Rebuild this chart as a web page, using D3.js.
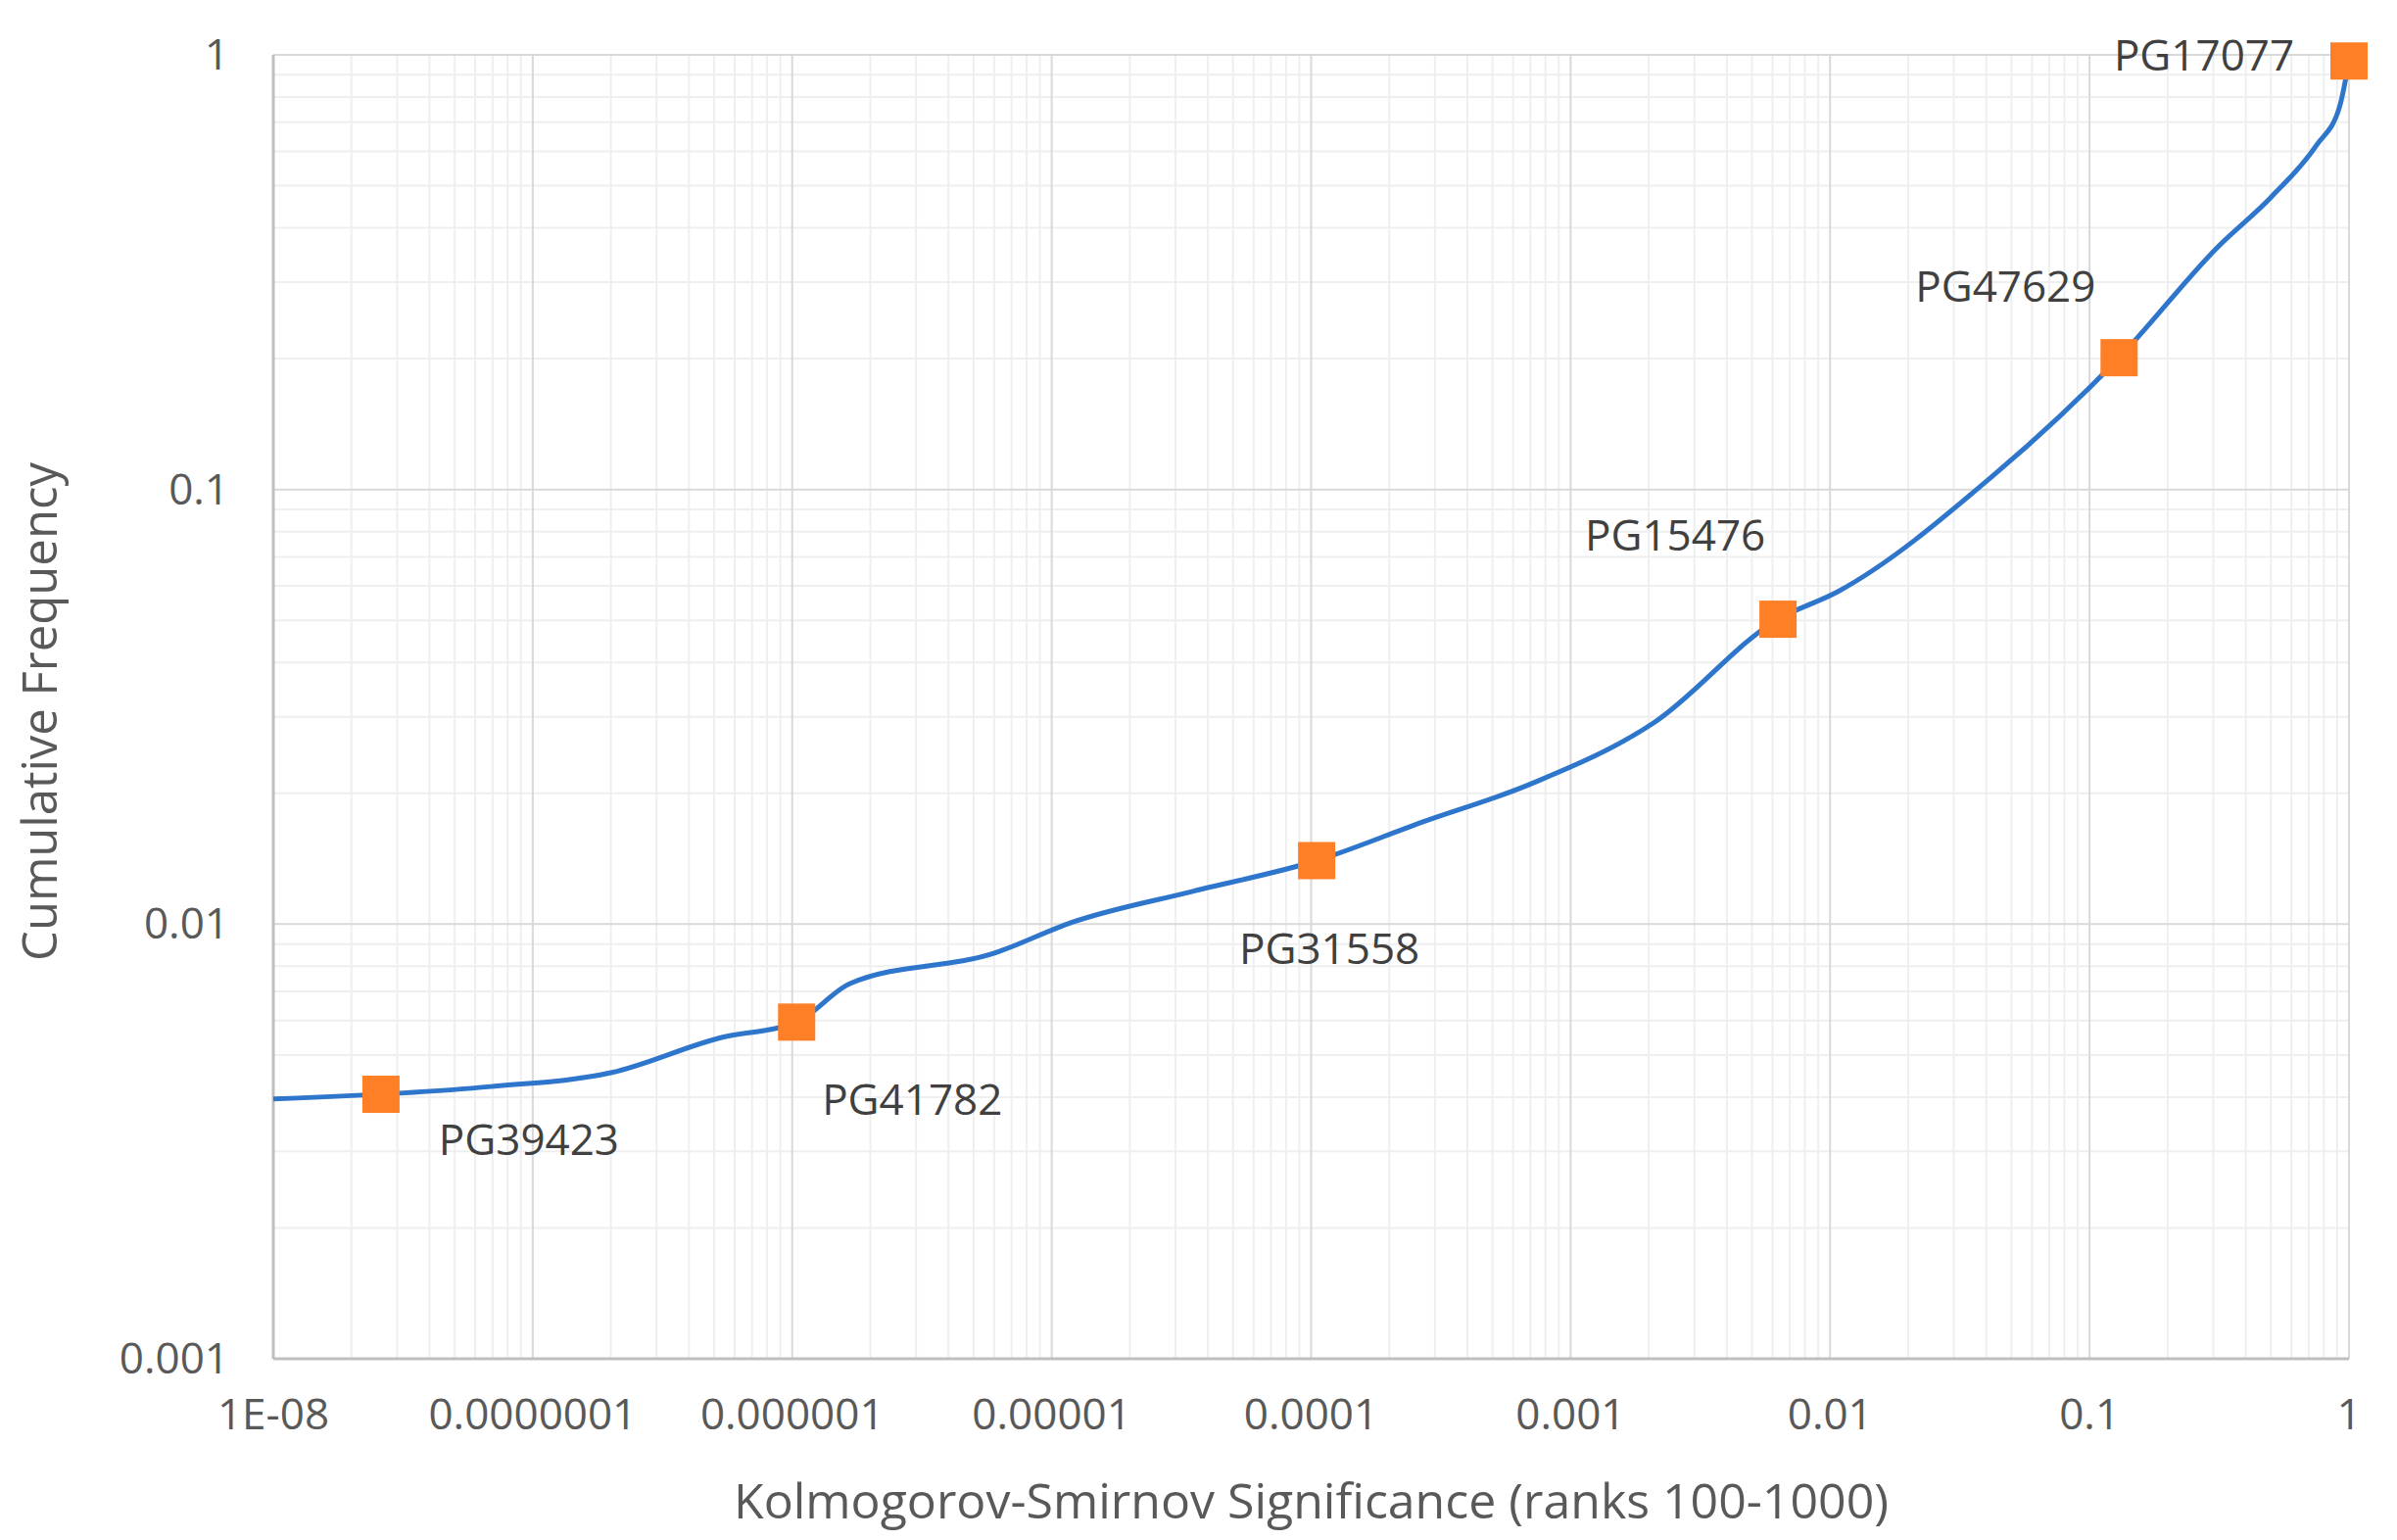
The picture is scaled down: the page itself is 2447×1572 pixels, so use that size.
<!DOCTYPE html><html><head><meta charset="utf-8"><script src="https://cdn.jsdelivr.net/npm/d3@7"></script>
<style>body{margin:0;background:#fff}text{font-family:"Open Sans","Noto Sans",sans-serif;fill:#595959}</style></head><body><svg id="c" width="2447" height="1572"></svg><script>
const curveX=[1e-8,6.9e-8,2.0e-7,5.3e-7,1.04e-6,1.67e-6,6.1e-6,1.2e-5,3.5e-5,1.05e-4,2.7e-4,7e-4,2.1e-3,6.3e-3,1.07e-2,4.2e-2,0.13,0.316,0.5,0.75,0.92,1];
const curveY=[0.00396,0.00423,0.00455,0.00548,0.00595,0.0073,0.0086,0.0101,0.0119,0.0140,0.0172,0.0210,0.0291,0.0503,0.0582,0.107,0.201,0.364,0.47,0.62,0.76,0.97];
const labels=["PG39423","PG41782","PG31558","PG15476","PG47629","PG17077"];
const markX=[2.6e-8,1.04e-6,1.05e-4,6.3e-3,0.13,1];
const markY=[0.00406,0.00595,0.0140,0.0503,0.201,0.968];
const labDX=[151,118,13,-105,-116,-148], labDY=[47,80,90,-85,-72,-5];
const xTicks=["1E-08","0.0000001","0.000001","0.00001","0.0001","0.001","0.01","0.1","1"];
const yTicks=["0.001","0.01","0.1","1"];
const svg=d3.select("#c");
const L=279,R=2398,T=56,B=1387;
const x=d3.scaleLog().domain([1e-8,1]).range([L,R]);
const y=d3.scaleLog().domain([0.001,1]).range([B,T]);
const g=svg.append("g");
for(let e=-8;e<0;e++)for(let k=2;k<10;k++){const v=k*10**e;g.append("line").attr("x1",x(v)).attr("x2",x(v)).attr("y1",T).attr("y2",B).attr("stroke","#efefef").attr("stroke-width",2);}
for(let e=-3;e<0;e++)for(let k=2;k<10;k++){const v=k*10**e;g.append("line").attr("y1",y(v)).attr("y2",y(v)).attr("x1",L).attr("x2",R).attr("stroke","#efefef").attr("stroke-width",2);}
xTicks.forEach((t,i)=>{const v=10**(i-8);g.append("line").attr("x1",x(v)).attr("x2",x(v)).attr("y1",T).attr("y2",B).attr("stroke","#d9d9d9").attr("stroke-width",2);
svg.append("text").attr("x",x(v)).attr("y",B+72).attr("text-anchor","middle").attr("font-size",44).text(t);});
yTicks.forEach((t,i)=>{const v=10**(i-3);g.append("line").attr("y1",y(v)).attr("y2",y(v)).attr("x1",L).attr("x2",R).attr("stroke","#d9d9d9").attr("stroke-width",2);
svg.append("text").attr("x",L-45).attr("y",y(v)+15).attr("text-anchor","end").attr("font-size",44).text(t);});
svg.append("line").attr("x1",L).attr("x2",L).attr("y1",T).attr("y2",B).attr("stroke","#bfbfbf").attr("stroke-width",3);
svg.append("line").attr("x1",L).attr("x2",R).attr("y1",B).attr("y2",B).attr("stroke","#bfbfbf").attr("stroke-width",3);
svg.append("path").datum(curveX.map((d,i)=>[d,curveY[i]])).attr("d",d3.line().x(d=>x(d[0])).y(d=>y(d[1])).curve(d3.curveMonotoneX)).attr("fill","none").attr("stroke","#2e75cc").attr("stroke-width",5);
markX.forEach((v,i)=>{svg.append("rect").attr("x",x(v)-19).attr("y",y(markY[i])-19).attr("width",38).attr("height",38).attr("fill","#ff7f27");
svg.append("text").attr("x",x(v)+labDX[i]).attr("y",y(markY[i])+labDY[i]+15).attr("text-anchor","middle").attr("font-size",44).style("fill","#404040").text(labels[i]);});
svg.append("text").attr("x",(L+R)/2).attr("y",1550).attr("text-anchor","middle").attr("font-size",50).text("Kolmogorov-Smirnov Significance (ranks 100-1000)");
svg.append("text").attr("transform",`translate(58,${(T+B)/2+5}) rotate(-90)`).attr("text-anchor","middle").attr("font-size",49).text("Cumulative Frequency");
</script></body></html>
